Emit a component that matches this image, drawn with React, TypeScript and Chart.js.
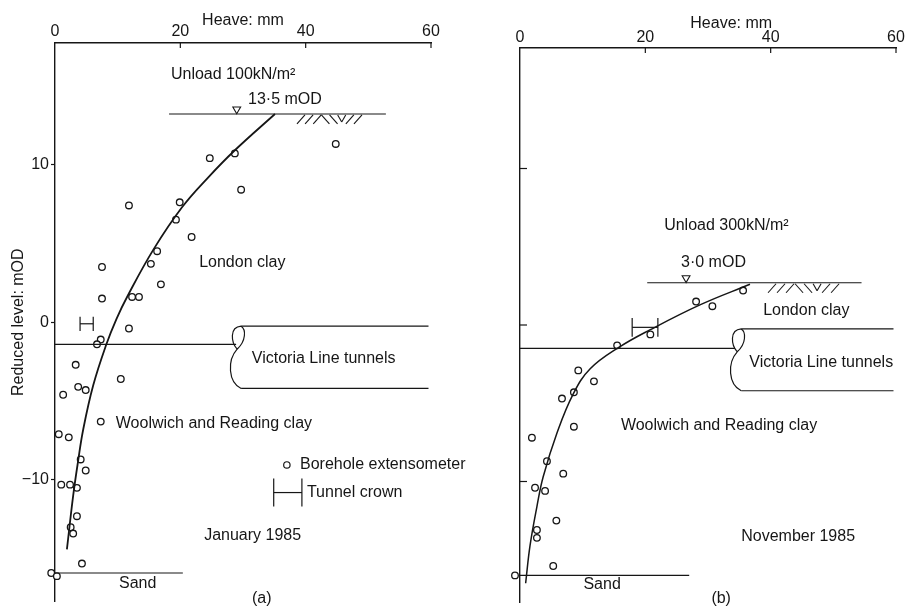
import React, { useEffect, useRef } from "react";
import { Chart, registerables } from "chart.js";
Chart.register(...registerables);

const FONT = "'Liberation Sans', Arial, Helvetica, sans-serif";
const INK = "#161616";

// ---------- shared axis values ----------
const xTickValues = [0, 20, 40, 60];
const yTickValues = [-10, 0, 10];

// ---------- Panel (a): January 1985 ----------
const aPointsX = [44.8, 24.7, 28.7, 29.7, 11.8, 19.9, 19.3, 21.8, 16.3, 15.3, 7.5, 16.9, 7.5, 12.3, 13.4, 11.8, 7.3, 6.7, 3.3, 10.5, 3.7, 4.9, 1.3, 7.3, 0.6, 2.2, 4.1, 4.9, 1.0, 2.4, 3.5, 3.5, 2.5, 2.9, 4.3, -0.6, 0.3];
const aPointsY = [11.3, 10.4, 10.7, 8.4, 7.4, 7.6, 6.5, 5.4, 4.5, 3.7, 3.5, 2.4, 1.5, 1.6, 1.6, -0.4, -1.1, -1.4, -2.7, -3.6, -4.1, -4.3, -4.6, -6.3, -7.1, -7.3, -8.7, -9.4, -10.3, -10.3, -10.5, -12.3, -13.0, -13.4, -15.3, -15.9, -16.1];
const aCurveX = [1.9, 2.9, 3.65, 4.5, 6.1, 8.2, 9.8, 11.5, 15.7, 20.3, 24.5, 28.7, 35.1];
const aCurveY = [-14.4, -11.0, -8.9, -6.8, -4.0, -1.4, 0.2, 1.6, 4.6, 7.3, 9.2, 10.9, 13.2];
const aGroundX = [18.2, 52.8];
const aGroundLevel = 13.2;
const aTunnelAxisX = [0, 28.9];
const aTunnelAxisLevel = -1.4;
const aTunnelX = [29.7, 59.6];
const aTunnelTop = -0.25;
const aTunnelBottom = -4.2;
const aSandX = [0, 20.4];
const aSandLevel = -15.9;
const aCrownX = [4.0, 6.1];
const aCrownLevel = -0.1;
const aMarkerX = 29.0;
const aHatchX = [38.6, 49.0];

// ---------- Panel (b): November 1985 ----------
const bPointsX = [-0.8, 5.3, 2.7, 2.7, 5.8, 2.4, 4.0, 6.9, 4.3, 1.9, 8.6, 6.7, 8.6, 11.8, 9.3, 15.5, 20.8, 28.1, 30.7, 35.6];
const bPointsY = [-16.0, -15.4, -13.1, -13.6, -12.5, -10.4, -10.6, -9.5, -8.7, -7.2, -6.5, -4.7, -4.3, -3.6, -2.9, -1.3, -0.6, 1.5, 1.2, 2.2];
const bCurveX = [0.9, 1.6, 2.7, 3.7, 5.9, 8.5, 11.2, 15.7, 20.8, 28.8, 36.7];
const bCurveY = [-16.5, -14.1, -11.6, -9.7, -6.9, -4.4, -2.8, -1.45, -0.3, 1.3, 2.6];
const bGroundX = [20.3, 54.5];
const bGroundLevel = 2.7;
const bTunnelAxisX = [0, 34.3];
const bTunnelAxisLevel = -1.5;
const bTunnelX = [35.3, 59.6];
const bTunnelTop = -0.25;
const bTunnelBottom = -4.2;
const bSandX = [0, 27.0];
const bSandLevel = -16.0;
const bCrownX = [17.9, 22.0];
const bCrownLevel = -0.15;
const bMarkerX = 26.5;
const bHatchX = [39.5, 51.0];

type Label = { t: string; x: number; y: number; align?: CanvasTextAlign };

const aLabels: Label[] = [
  { t: "Unload 100kN/m²", x: 18.5, y: 15.7 },
  { t: "13·5 mOD", x: 30.8, y: 14.1 },
  { t: "London clay", x: 23.0, y: 3.8 },
  { t: "Victoria Line tunnels", x: 31.4, y: -2.3 },
  { t: "Woolwich and Reading clay", x: 9.7, y: -6.4 },
  { t: "Borehole extensometer", x: 39.1, y: -9.05 },
  { t: "Tunnel crown", x: 40.2, y: -10.8 },
  { t: "January 1985", x: 23.8, y: -13.5 },
  { t: "Sand", x: 13.2, y: -16.6, align: "center" },
  { t: "(a)", x: 33.0, y: -17.55, align: "center" },
];
const bLabels: Label[] = [
  { t: "Heave: mm", x: 33.7, y: 19.27, align: "center" },
  { t: "Unload 300kN/m²", x: 23.0, y: 6.35 },
  { t: "3·0 mOD", x: 25.7, y: 4.0 },
  { t: "London clay", x: 38.8, y: 0.9 },
  { t: "Victoria Line tunnels", x: 36.6, y: -2.4 },
  { t: "Woolwich and Reading clay", x: 16.1, y: -6.4 },
  { t: "November 1985", x: 35.3, y: -13.5 },
  { t: "Sand", x: 13.1, y: -16.6, align: "center" },
  { t: "(b)", x: 32.1, y: -17.5, align: "center" },
];

// hatch stroke kinds along the ground surface
const hatchPattern = ["/", "/", "/", "\\", "\\", "v", "/", "/"];

const pts = (xs: number[], ys: number[]) => xs.map((x, i) => ({ x, y: ys[i] }));
const seg = (xs: number[], y: number) => xs.map((x) => ({ x, y }));

type Panel = {
  id: string;
  pointsX: number[]; pointsY: number[];
  curveX: number[]; curveY: number[];
  groundX: number[]; ground: number;
  axisX: number[]; axisLevel: number;
  tunnelX: number[]; tunnelTop: number; tunnelBottom: number;
  sandX: number[]; sand: number;
  crownX: number[]; crownLevel: number; crownHalf: number;
  markerX: number; hatchX: number[];
  labels: Label[];
  legend: boolean;
  padding: { left: number; right: number; top: number; bottom: number };
  xHeight: number; yWidth: number;
  xTitle: boolean; xTitlePad: number; xTickPad: number;
  yLabels: boolean;
  curveWidth: number;
};

const panelA: Panel = {
  id: "a",
  pointsX: aPointsX, pointsY: aPointsY, curveX: aCurveX, curveY: aCurveY,
  groundX: aGroundX, ground: aGroundLevel, axisX: aTunnelAxisX, axisLevel: aTunnelAxisLevel,
  tunnelX: aTunnelX, tunnelTop: aTunnelTop, tunnelBottom: aTunnelBottom,
  sandX: aSandX, sand: aSandLevel, crownX: aCrownX, crownLevel: aCrownLevel, crownHalf: 0.45,
  markerX: aMarkerX, hatchX: aHatchX, labels: aLabels, legend: true,
  padding: { left: 0, right: 906 - 431, top: 0, bottom: 11 },
  xHeight: 43, yWidth: 55, xTitle: true, xTitlePad: 10.5, xTickPad: 2, yLabels: true, curveWidth: 1.8,
};
const panelB: Panel = {
  id: "b",
  pointsX: bPointsX, pointsY: bPointsY, curveX: bCurveX, curveY: bCurveY,
  groundX: bGroundX, ground: bGroundLevel, axisX: bTunnelAxisX, axisLevel: bTunnelAxisLevel,
  tunnelX: bTunnelX, tunnelTop: bTunnelTop, tunnelBottom: bTunnelBottom,
  sandX: bSandX, sand: bSandLevel, crownX: bCrownX, crownLevel: bCrownLevel, crownHalf: 0.6,
  markerX: bMarkerX, hatchX: bHatchX, labels: bLabels, legend: false,
  padding: { left: 520, right: 10, top: 0, bottom: 11 },
  xHeight: 48, yWidth: 0, xTitle: false, xTitlePad: 13.5, xTickPad: 1, yLabels: false, curveWidth: 1.5,
};

const Y_MIN = -17.7;
const Y_MAX = 17.7;

function decor(p: Panel) {
  return {
    id: "decor" + p.id,
    afterDatasetsDraw(chart: any) {
      const { ctx, chartArea } = chart;
      const xs = chart.scales.x, ys = chart.scales.y;
      const X = (v: number) => xs.getPixelForValue(v);
      const Y = (v: number) => ys.getPixelForValue(v);
      const line = (x1: number, y1: number, x2: number, y2: number) => {
        ctx.beginPath(); ctx.moveTo(x1, y1); ctx.lineTo(x2, y2); ctx.stroke();
      };
      ctx.save();
      ctx.strokeStyle = INK; ctx.fillStyle = INK; ctx.lineWidth = 1.2; ctx.lineCap = "butt";

      // inward ticks on top axis
      for (const t of xTickValues.slice(1)) line(X(t), chartArea.top, X(t), chartArea.top + 5);
      // inward y ticks on panel b
      if (!p.yLabels) for (const t of yTickValues) line(X(0), Y(t), X(0) + 7, Y(t));

      // tunnel crown marker
      const cy = Y(p.crownLevel);
      const ch = Y(p.crownLevel - p.crownHalf) - cy;
      line(X(p.crownX[0]), cy, X(p.crownX[1]), cy);
      line(X(p.crownX[0]), cy - ch, X(p.crownX[0]), cy + ch);
      line(X(p.crownX[1]), cy - ch, X(p.crownX[1]), cy + ch);

      // hatching under ground surface
      const gy = Y(p.ground);
      ctx.lineWidth = 1.1;
      const h0 = X(p.hatchX[0]), h1 = X(p.hatchX[1]);
      const n = hatchPattern.length;
      const step = (h1 - h0) / n;
      hatchPattern.forEach((kind, i) => {
        const px = h0 + step * (i + 0.5);
        if (kind === "/") line(px + 4, gy + 1, px - 4, gy + 10);
        else if (kind === "\\") line(px - 4, gy + 1, px + 4, gy + 10);
        else { line(px - 4, gy + 1, px, gy + 8); line(px + 4, gy + 1, px, gy + 8); }
      });
      ctx.lineWidth = 1.2;

      // tunnel end (cut pipe outline)
      const L = X(p.tunnelX[0]);
      const T = Y(p.tunnelTop), B = Y(p.tunnelBottom), H = B - T;
      const pinchX = L - 4, pinchY = T + 0.37 * H;
      ctx.beginPath();
      ctx.moveTo(L, T);
      ctx.bezierCurveTo(L - 12, T + 1, L - 10, T + 0.26 * H, pinchX, pinchY);
      ctx.moveTo(L, T);
      ctx.bezierCurveTo(L + 5, T + 3, L + 5, T + 0.24 * H, pinchX, pinchY);
      ctx.bezierCurveTo(L - 14, T + 0.55 * H, L - 13, B - 0.1 * H, L, B);
      ctx.stroke();

      // text labels
      ctx.font = `16px ${FONT}`;
      ctx.textBaseline = "middle";
      for (const lb of p.labels) {
        ctx.textAlign = lb.align || "left";
        ctx.fillText(lb.t, X(lb.x), Y(lb.y));
      }

      // legend symbols (panel a)
      if (p.legend) {
        ctx.beginPath();
        ctx.arc(X(37.0), Y(-9.05), 3.2, 0, Math.PI * 2);
        ctx.fillStyle = "#fff"; ctx.fill(); ctx.stroke();
        const ly = Y(-10.8), lh = 14;
        line(X(34.9), ly, X(39.4), ly);
        line(X(34.9), ly - lh, X(34.9), ly + lh);
        line(X(39.4), ly - lh, X(39.4), ly + lh);
      }
      ctx.restore();
    },
  };
}

function makeConfig(p: Panel): any {
  const lineDs = (data: { x: number; y: number }[], w = 1.2) => ({
    data, showLine: true, pointRadius: 0, borderColor: INK, borderWidth: w, clip: false,
  });
  return {
    type: "scatter",
    data: {
      datasets: [
        lineDs(seg(p.groundX, p.ground)),
        lineDs(seg(p.axisX, p.axisLevel)),
        lineDs(seg(p.tunnelX, p.tunnelTop)),
        lineDs(seg(p.tunnelX, p.tunnelBottom)),
        lineDs(seg(p.sandX, p.sand)),
        {
          data: pts(p.curveX, p.curveY), showLine: true, pointRadius: 0,
          borderColor: INK, borderWidth: p.curveWidth, tension: 0.4, clip: false,
        },
        {
          data: [{ x: p.markerX, y: p.ground + 0.3 }], pointStyle: "triangle", rotation: 180,
          pointRadius: 4.5, borderColor: INK, backgroundColor: "#fff", borderWidth: 1.1, clip: false,
        },
        {
          data: pts(p.pointsX, p.pointsY), pointRadius: 3.3, borderColor: INK,
          backgroundColor: "#fff", borderWidth: 1.3, clip: false,
        },
      ],
    },
    options: {
      responsive: false,
      animation: false,
      events: [],
      layout: { padding: p.padding },
      plugins: { legend: { display: false }, tooltip: { enabled: false }, title: { display: false } },
      scales: {
        x: {
          type: "linear", position: "top", min: 0, max: 60,
          afterBuildTicks: (s: any) => { s.ticks = xTickValues.map((v) => ({ value: v })); },
          afterFit: (s: any) => { s.height = p.xHeight; },
          ticks: { font: { family: FONT, size: 16 }, color: INK, padding: p.xTickPad, maxRotation: 0, autoSkip: false },
          grid: { drawOnChartArea: false, drawTicks: false },
          border: { display: true, color: INK, width: 1.4 },
          title: {
            display: p.xTitle, text: "Heave: mm", color: INK,
            font: { family: FONT, size: 16 }, padding: { top: p.xTitlePad, bottom: 0 },
          },
        },
        y: {
          type: "linear", position: "left", min: Y_MIN, max: Y_MAX,
          afterBuildTicks: (s: any) => { s.ticks = yTickValues.map((v) => ({ value: v })); },
          afterFit: (s: any) => { s.width = p.yWidth; },
          ticks: {
            display: p.yLabels, font: { family: FONT, size: 16 }, color: INK, padding: 2,
            callback: (v: number) => (v < 0 ? "\u2212" + Math.abs(v) : String(v)),
          },
          grid: { drawOnChartArea: false, drawTicks: p.yLabels, tickLength: 4, color: INK, tickWidth: 1.2 },
          border: { display: true, color: INK, width: 1.4 },
          title: {
            display: p.yLabels, text: "Reduced level: mOD", color: INK,
            font: { family: FONT, size: 16 }, padding: { top: 8.5, bottom: 0 },
          },
        },
      },
    },
    plugins: [decor(p)],
  };
}

export default function App() {
  const refA = useRef<HTMLCanvasElement>(null);
  const refB = useRef<HTMLCanvasElement>(null);
  useEffect(() => {
    const a = new Chart(refA.current as HTMLCanvasElement, makeConfig(panelA));
    const b = new Chart(refB.current as HTMLCanvasElement, makeConfig(panelB));
    return () => { a.destroy(); b.destroy(); };
  }, []);
  const cs: React.CSSProperties = { position: "absolute", left: 0, top: 0, width: 906, height: 613 };
  return (
    <div style={{ position: "absolute", left: 0, top: 0, width: 906, height: 613, background: "#fff" }}>
      <canvas ref={refA} width={906} height={613} style={cs} />
      <canvas ref={refB} width={906} height={613} style={cs} />
    </div>
  );
}
